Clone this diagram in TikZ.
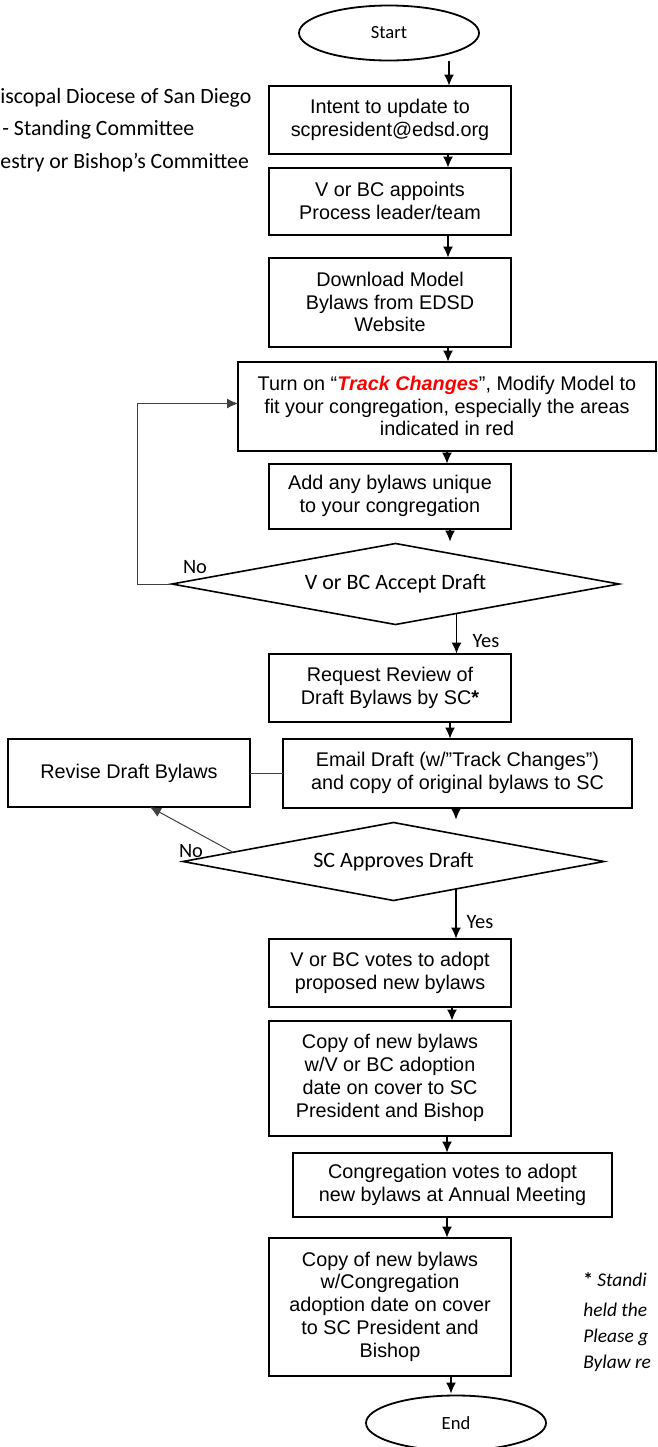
\documentclass[tikz,border=0pt]{standalone}
\usepackage{fontspec}
\setmainfont{Liberation Sans}
\newfontfamily\calibri{Carlito}
\usetikzlibrary{positioning,arrows.meta,shapes.geometric,calc}

\begin{document}
\begin{tikzpicture}[
  x=0.5pt, y=-0.5pt,
  >={Latex[length=5.5pt,width=5pt]},
  box/.style={draw, line width=1pt, outer sep=0pt, minimum width=121pt, align=center, inner sep=2pt, font=\fontsize{9.9}{11.4}\selectfont},
  term/.style={draw, ellipse, line width=0.9pt, outer sep=0pt, minimum width=90pt, minimum height=27.5pt, font=\calibri\fontsize{9.3}{11}\selectfont},
  decide/.style={draw, diamond, aspect=5.5, inner sep=0pt, outer sep=0pt, line width=0.8pt, font=\calibri\fontsize{11}{13}\selectfont},
  edge/.style={->, line width=0.6pt},
  fb/.style={line width=0.5pt, black!75},
  lbl/.style={font=\calibri\fontsize{10.2}{12}\selectfont, inner sep=0pt},
  key/.style={anchor=west, inner sep=0pt, font=\calibri\fontsize{10.9}{12}\selectfont},
  note/.style={anchor=west, inner sep=0pt, font=\calibri\itshape\fontsize{9.7}{12}\selectfont}
]
  \useasboundingbox (0,0) rectangle (658,1447);
  \clip (0,0) rectangle (658,1447);

  % legend (cut off at the left)
  \node[key] (k1) at (0,98) {iscopal Diocese of San Diego};
  \node[key] (k2) at (2,130) {- Standing Committee};
  \node[key] (k3) at (0,163) {estry or Bishop’s Committee};

  % main column
  \node[term] (start) at (389,33) {Start};
  \node[box, minimum height=34pt, below=12.5pt of start, xshift=0.5pt] (intent) {Intent to update to\\scpresident@edsd.org};
  \node[box, minimum height=33.5pt, below=7pt of intent] (appoint) {V or BC appoints\\Process leader/team};
  \node[box, minimum height=44.5pt, below=11.5pt of appoint] (download) {Download Model\\Bylaws from EDSD\\Website};
  \node[box, minimum width=209pt, minimum height=44.5pt, below=7.5pt of download, xshift=28.5pt] (track)
    {Turn on “\textcolor{red}{\bfseries\itshape Track Changes}”, Modify Model to\\fit your congregation, especially the areas\\indicated in red};
  \node[box, minimum height=32.5pt, below=6.5pt of track, xshift=-28.5pt] (unique) {Add any bylaws unique\\to your congregation};
  \node[decide, minimum width=223.5pt, minimum height=40.5pt, below=7.5pt of unique, xshift=2.75pt] (accept) {V or BC Accept Draft};
  \node[box, minimum height=34pt, below=14.5pt of accept, xshift=-2.75pt] (review) {Request Review of\\Draft Bylaws by SC\textbf{*}};
  \node[box, minimum width=174.5pt, minimum height=34.5pt, below=8.5pt of review, xshift=33.75pt] (email)
    {Email Draft (w/”Track Changes”)\\and copy of original bylaws to SC};
  \node[box, minimum height=34pt, left=16.5pt of email] (revise) {Revise Draft Bylaws};
  \node[decide, minimum width=210.5pt, minimum height=39pt, below=7.5pt of email, xshift=-32pt] (approve) {SC Approves Draft};
  \node[box, minimum height=34pt, below=19pt of approve, xshift=-1.75pt] (vbvote) {V or BC votes to adopt\\proposed new bylaws};
  \node[box, minimum height=57.5pt, below=7pt of vbvote] (copyvb) {Copy of new bylaws\\w/V or BC adoption\\date on cover to SC\\President and Bishop};
  \node[box, minimum width=159.5pt, minimum height=32pt, below=8.5pt of copyvb, xshift=31.25pt] (congvote)
    {Congregation votes to adopt\\new bylaws at Annual Meeting};
  \node[box, minimum height=69pt, below=10.5pt of congvote, xshift=-31.25pt] (copycong)
    {Copy of new bylaws\\w/Congregation\\adoption date on cover\\to SC President and\\Bishop};
  \node[term, below=10pt of copycong, xshift=33pt] (end) {End};

  % footnote (cut off at the right)
  \node[note] (f1) at (583,1280) {{\upshape\bfseries *} Standi};
  \node[note] (f2) at (583,1310) {held the};
  \node[note] (f3) at (583,1337) {Please g};
  \node[note] (f4) at (583,1363) {Bylaw re};

  % arrows down the column
  \draw[edge] ([xshift=30pt]start.south) -- ([xshift=30pt]start.south |- intent.north);
  \draw[edge] ([xshift=29pt]intent.south) -- ([xshift=29pt]intent.south |- appoint.north);
  \draw[edge] ([xshift=29pt]appoint.south) -- ([xshift=29pt]appoint.south |- download.north);
  \draw[edge] ([xshift=29pt]download.south) -- ([xshift=29pt]download.south |- track.north);
  \draw[edge] (track.south) -- (track.south |- unique.north);
  \draw[edge] ([xshift=30pt]unique.south) -- ([xshift=30pt,yshift=1pt]unique.south |- accept.north);
  \draw[edge] ([xshift=30.5pt,yshift=5.5pt]accept.south) -- ([xshift=30.5pt]accept.south |- review.north);
  \draw[edge] ([xshift=30pt]review.south) -- ([xshift=30pt]review.south |- email.north);
  \draw[edge] ([xshift=-0.75pt]email.south) -- ([xshift=-0.75pt,yshift=1.5pt]email.south |- approve.north);
  \draw[edge] ([xshift=31.25pt,yshift=5.75pt]approve.south) -- ([xshift=31.25pt]approve.south |- vbvote.north);
  \draw[edge] ([xshift=31pt]vbvote.south) -- ([xshift=31pt]vbvote.south |- copyvb.north);
  \draw[edge] ([xshift=28.5pt]copyvb.south) -- ([xshift=28.5pt]copyvb.south |- congvote.north);
  \draw[edge] ([xshift=-2.75pt]congvote.south) -- ([xshift=-2.75pt]congvote.south |- copycong.north);
  \draw[edge] ([xshift=30.5pt]copycong.south) -- ([xshift=30.5pt,yshift=1pt]copycong.south |- end.north);

  % No / Yes branches
  \draw[fb, ->] (accept.west) -- ++(-35,0) |- ([yshift=1.25pt]track.west);
  \draw[fb, ->] ($(approve.west)!0.2375!(approve.north)$) -- ([xshift=10.5pt]revise.south);
  \draw[fb] (revise.east) -- (revise.east -| email.west);
  \node[lbl] (no1) at (195,567) {No};
  \node[lbl] (yes1) at (486,641) {Yes};
  \node[lbl] (no2) at (191,851) {No};
  \node[lbl] (yes2) at (480,922) {Yes};
\end{tikzpicture}
\end{document}
